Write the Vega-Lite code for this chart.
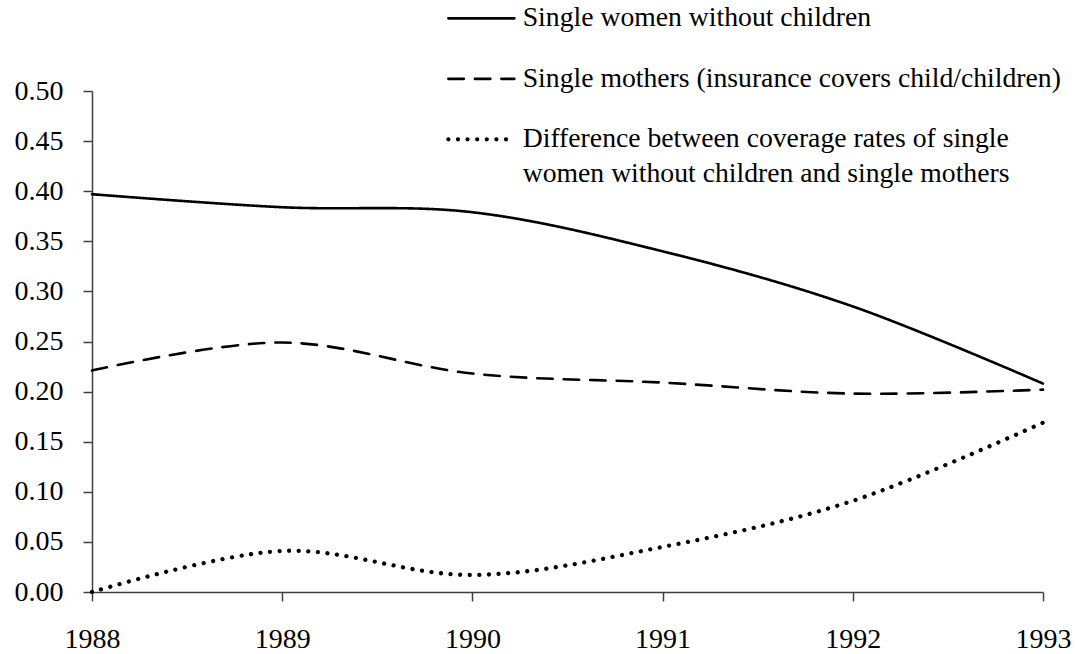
{
  "$schema": "https://vega.github.io/schema/vega-lite/v6.json",
  "width": 951,
  "height": 501,
  "autosize": "none",
  "padding": {"left": 92, "top": 91, "right": 35, "bottom": 62},
  "background": "white",
  "data": {
    "values": [
      {"year": 1988, "value": 0.397, "series": "Single women without children"},
      {"year": 1989, "value": 0.384, "series": "Single women without children"},
      {"year": 1990, "value": 0.379, "series": "Single women without children"},
      {"year": 1991, "value": 0.340, "series": "Single women without children"},
      {"year": 1992, "value": 0.285, "series": "Single women without children"},
      {"year": 1993, "value": 0.208, "series": "Single women without children"},
      {"year": 1988, "value": 0.221, "series": "Single mothers (insurance covers child/children)"},
      {"year": 1989, "value": 0.249, "series": "Single mothers (insurance covers child/children)"},
      {"year": 1990, "value": 0.218, "series": "Single mothers (insurance covers child/children)"},
      {"year": 1991, "value": 0.209, "series": "Single mothers (insurance covers child/children)"},
      {"year": 1992, "value": 0.198, "series": "Single mothers (insurance covers child/children)"},
      {"year": 1993, "value": 0.202, "series": "Single mothers (insurance covers child/children)"},
      {"year": 1988, "value": 0.000, "series": "Difference between coverage rates of single women without children and single mothers"},
      {"year": 1989, "value": 0.041, "series": "Difference between coverage rates of single women without children and single mothers"},
      {"year": 1990, "value": 0.017, "series": "Difference between coverage rates of single women without children and single mothers"},
      {"year": 1991, "value": 0.045, "series": "Difference between coverage rates of single women without children and single mothers"},
      {"year": 1992, "value": 0.091, "series": "Difference between coverage rates of single women without children and single mothers"},
      {"year": 1993, "value": 0.169, "series": "Difference between coverage rates of single women without children and single mothers"}
    ]
  },
  "mark": {"type": "line", "interpolate": "cardinal", "color": "black", "strokeCap": "round", "clip": false},
  "encoding": {
    "x": {
      "field": "year",
      "type": "quantitative",
      "scale": {"domain": [1988, 1993], "nice": false, "zero": false},
      "axis": {
        "values": [1988, 1989, 1990, 1991, 1992, 1993],
        "format": "d",
        "title": null,
        "grid": false,
        "labelFont": "Liberation Serif",
        "labelFontSize": 28,
        "labelColor": "black",
        "labelFlush": false,
        "labelOverlap": false,
        "labelPadding": 24,
        "tickSize": 9,
        "tickColor": "#404040",
        "tickWidth": 1.5,
        "domainColor": "#404040",
        "domainWidth": 1.5
      }
    },
    "y": {
      "field": "value",
      "type": "quantitative",
      "scale": {"domain": [0, 0.5], "nice": false},
      "axis": {
        "values": [0, 0.05, 0.1, 0.15, 0.2, 0.25, 0.3, 0.35, 0.4, 0.45, 0.5],
        "format": ".2f",
        "title": null,
        "grid": false,
        "labelFont": "Liberation Serif",
        "labelFontSize": 28,
        "labelColor": "black",
        "labelPadding": 20,
        "labelOverlap": false,
        "labelFlush": false,
        "tickSize": 9,
        "tickColor": "#404040",
        "tickWidth": 1.5,
        "domainColor": "#404040",
        "domainWidth": 1.5
      }
    },
    "strokeWidth": {
      "field": "series",
      "type": "ordinal",
      "scale": {
        "type": "ordinal",
        "domain": [
          "Single women without children",
          "Single mothers (insurance covers child/children)",
          "Difference between coverage rates of single women without children and single mothers"
        ],
        "range": [2.6, 2.6, 4.3]
      },
      "legend": null
    },
    "strokeDash": {
      "field": "series",
      "type": "nominal",
      "scale": {
        "domain": [
          "Single women without children",
          "Single mothers (insurance covers child/children)",
          "Difference between coverage rates of single women without children and single mothers"
        ],
        "range": [[1, 0], [15.5, 11], [0.01, 9.6]]
      },
      "legend": {
        "orient": "none",
        "legendX": 375.5,
        "legendY": -86.5,
        "title": null,
        "padding": 0,
        "symbolType": "M-6,0H6",
        "symbolSize": 121,
        "symbolStrokeWidth": 2.6,
        "symbolStrokeColor": "black",
        "labelFont": "Liberation Serif",
        "labelFontSize": 27.7,
        "labelColor": "black",
        "labelOffset": 27.5,
        "labelLimit": 0,
        "labelBaseline": "middle",
        "rowPadding": 31.5,
        "labelExpr": "datum.index === 2 ? ['Difference between coverage rates of single', 'women without children and single mothers'] : datum.label",
        "encode": {
          "symbols": {"update": {"strokeCap": {"value": "round"}, "strokeWidth": {"signal": "datum.index === 2 ? 4.3 : 2.6"}}},
          "labels": {"update": {"lineHeight": {"value": 35}}}
        }
      }
    }
  },
  "config": {"view": {"stroke": null}}
}
